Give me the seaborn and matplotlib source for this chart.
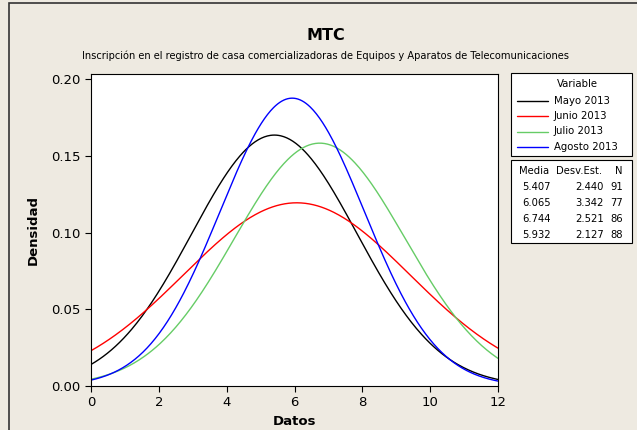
import numpy as np
import pandas as pd
import matplotlib
matplotlib.use("Agg")
import matplotlib.pyplot as plt
from matplotlib.patches import Rectangle
import seaborn as sns

meses = ["Mayo 2013", "Junio 2013", "Julio 2013", "Agosto 2013"]
media = [5.407, 6.065, 6.744, 5.932]
desv = [2.440, 3.342, 2.521, 2.127]
n_obs = [91, 77, 86, 88]
colores = ["black", "red", "#66cc66", "blue"]

x = np.linspace(0, 12, 400)
filas = []
for m, mu, s in zip(meses, media, desv):
    y = np.exp(-0.5 * ((x - mu) / s) ** 2) / (s * np.sqrt(2 * np.pi))
    filas.append(pd.DataFrame({"Datos": x, "Densidad": y, "Variable": m}))
df = pd.concat(filas, ignore_index=True)

sns.set_style("white")
plt.rcParams["font.family"] = ["DejaVu Sans"]
plt.rcParams["text.color"] = "black"
plt.rcParams["axes.labelcolor"] = "black"

fondo = "#eeeae1"
fig = plt.figure(figsize=(6.37, 4.30), dpi=100, facecolor=fondo)
W, H = 637, 430
ax = fig.add_axes([91 / W, 1 - 386 / H, (498 - 91) / W, (386 - 74) / H])

sns.lineplot(data=df, x="Datos", y="Densidad", hue="Variable",
             palette=dict(zip(meses, colores)), linewidth=1.0, ax=ax, legend=False)

ax.set_xlim(0, 12)
ax.set_ylim(0, 0.2033)
ax.set_xticks(range(0, 13, 2))
ax.set_yticks([0, 0.05, 0.10, 0.15, 0.20])
ax.set_yticklabels(["0.00", "0.05", "0.10", "0.15", "0.20"])
ax.tick_params(axis="both", direction="out", length=4, width=0.8, labelsize=9.5,
               bottom=True, left=True, colors="black")
for sp in ax.spines.values():
    sp.set_color("black")
    sp.set_linewidth(0.8)
ax.set_xlabel("Datos", fontsize=9.5, fontweight="bold")
ax.set_ylabel("Densidad", fontsize=9.5, fontweight="bold", labelpad=8)

# marco exterior
fig.add_artist(Rectangle((9 / W, -0.01), 1.0, 1 - 3 / H + 0.01, transform=fig.transFigure,
                         fill=False, edgecolor="#333333", linewidth=1.2))

fig.text(326 / W, 1 - 36 / H, "MTC", ha="center", va="center", fontsize=11.5, fontweight="bold")
fig.text(326 / W, 1 - 56 / H,
         "Inscripción en el registro de casa comercializadoras de Equipos y Aparatos de Telecomunicaciones",
         ha="center", va="center", fontsize=7.1)

# cuadro de leyenda
x0, x1 = 511, 632
fig.add_artist(Rectangle((x0 / W, 1 - 156 / H), (x1 - x0) / W, (156 - 73) / H,
                         transform=fig.transFigure, facecolor="white", edgecolor="black", linewidth=0.8))
fig.text(577 / W, 1 - 84 / H, "Variable", ha="center", va="center", fontsize=7.3)
for i, (m, c) in enumerate(zip(meses, colores)):
    yy = 1 - (100.5 + i * 15.5) / H
    fig.add_artist(plt.Line2D([517 / W, 548 / W], [yy, yy], transform=fig.transFigure,
                              color=c, linewidth=1.0))
    fig.text(554 / W, yy, m, ha="left", va="center", fontsize=7.3)

# cuadro de estadísticos
fig.add_artist(Rectangle((x0 / W, 1 - 243 / H), (x1 - x0) / W, (243 - 160) / H,
                         transform=fig.transFigure, facecolor="white", edgecolor="black", linewidth=0.8))
fig.text(519 / W, 1 - 171 / H, "Media", ha="left", va="center", fontsize=7.2)
fig.text(602 / W, 1 - 171 / H, "Desv.Est.", ha="right", va="center", fontsize=7.2)
fig.text(623 / W, 1 - 171 / H, "N", ha="right", va="center", fontsize=7.2)
for i, (mu, s, n) in enumerate(zip(media, desv, n_obs)):
    yy = 1 - (187 + i * 16) / H
    fig.text(522 / W, yy, f"{mu:.3f}", ha="left", va="center", fontsize=7.2)
    fig.text(604 / W, yy, f"{s:.3f}", ha="right", va="center", fontsize=7.2)
    fig.text(623 / W, yy, f"{n}", ha="right", va="center", fontsize=7.2)

fig.savefig("out.png", dpi=100, facecolor=fondo)
